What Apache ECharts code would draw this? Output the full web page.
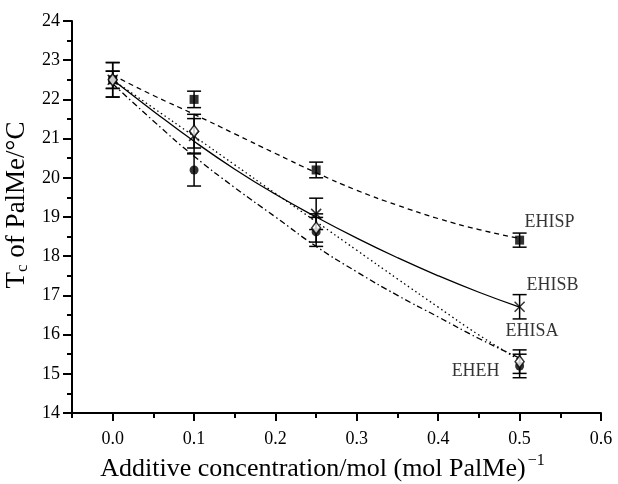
<!DOCTYPE html>
<html>
<head>
<meta charset="utf-8">
<script src="https://cdn.jsdelivr.net/npm/echarts@6/dist/echarts.min.js"></script>
<style>
  html, body { margin: 0; padding: 0; background: #fff; }
  #chart { width: 618px; height: 484px; }
</style>
</head>
<body>
<div id="chart"></div>
<script>
'use strict'

// measured points (x = additive concentration)
var xs = [0, 0.1, 0.25, 0.5];

var ehispY = [22.5, 22.0, 20.2, 18.41];
var ehispErr = [0.22, 0.21, 0.2, 0.18];
var ehisbY = [22.5, 21.07, 19.08, 16.71];
var ehisbErr = [0.44, 0.44, 0.4, 0.31];
var ehisaY = [22.5, 21.19, 18.72, 15.31];
var ehisaErr = [0.22, 0.43, 0.36, 0.3];
var ehehY = [22.5, 20.2, 18.62, 15.2];
var ehehErr = [0.44, 0.41, 0.37, 0.3];

// fitted curves
var fitX = [0, 0.05, 0.1, 0.15, 0.2, 0.25, 0.3, 0.35, 0.4, 0.45, 0.5];
var ehispFit = [22.62, 22.1, 21.62, 21.12, 20.62, 20.13, 19.68, 19.3, 18.96, 18.68, 18.45];
var ehisbFit = [22.5, 21.7, 20.93, 20.22, 19.58, 19.0, 18.46, 17.96, 17.5, 17.08, 16.7];
var ehisaFit = [22.5, 21.78, 21.06, 20.33, 19.6, 18.88, 18.15, 17.42, 16.7, 15.99, 15.35];
var ehehFit = [22.4, 21.45, 20.55, 19.75, 19.0, 18.25, 17.6, 17.0, 16.45, 15.9, 15.4];

var xMajorTicks = [0, 0.1, 0.2, 0.3, 0.4, 0.5, 0.6];
var xMinorTicks = [-0.05, 0.05, 0.15, 0.25, 0.35, 0.45, 0.55];

var dom = document.getElementById('chart');
var chart = echarts.init(dom);
var font = 'Liberation Serif';

function pairs(xv, yv) {
    return xv.map(function (x, i) { return [x, yv[i]]; });
}

function errData(yv, ev) {
    return xs.map(function (x, i) { return [x, yv[i], ev[i]]; });
}

function pointData(yv, labelOpt) {
    var d = pairs(xs, yv);
    var last = d.length - 1;
    d[last] = { value: d[last], label: labelOpt };
    return d;
}

function renderErrorBar(params, api) {
    var x = api.value(0), y = api.value(1), e = api.value(2);
    var hi = api.coord([x, y + e]);
    var lo = api.coord([x, y - e]);
    var w = 7;
    var st = { stroke: '#000', lineWidth: 1.5 };
    return {
        type: 'group',
        children: [
            { type: 'line', shape: { x1: hi[0], y1: hi[1], x2: lo[0], y2: lo[1] }, style: st },
            { type: 'line', shape: { x1: hi[0] - w, y1: hi[1], x2: hi[0] + w, y2: hi[1] }, style: st },
            { type: 'line', shape: { x1: lo[0] - w, y1: lo[1], x2: lo[0] + w, y2: lo[1] }, style: st }
        ]
    };
}

function errSeries(yv, ev) {
    return {
        type: 'custom',
        renderItem: renderErrorBar,
        data: errData(yv, ev),
        encode: { x: 0, y: 1 },
        z: 3,
        silent: true
    };
}

function fitSeries(name, yv, dash) {
    return {
        name: name,
        type: 'line',
        data: pairs(fitX, yv),
        smooth: true,
        showSymbol: false,
        lineStyle: { color: '#000', width: 1.3, type: dash },
        z: 2,
        silent: true
    };
}

function lbl(align, dx, dy) {
    return {
        show: true,
        formatter: '{a}',
        position: 'inside',
        align: align,
        verticalAlign: 'middle',
        offset: [dx, dy],
        color: '#000',
        fontFamily: font,
        fontSize: 18
    };
}

var option = {
    animation: false,
    backgroundColor: '#fff',
    grid: { left: 72, right: 17, top: 21, bottom: 71, outerBoundsMode: 'none' },
    xAxis: [
        {
            type: 'value',
            min: -0.05,
            max: 0.6,
            splitLine: { show: false },
            axisLine: { onZero: false, lineStyle: { color: '#000', width: 2 } },
            axisTick: { customValues: xMajorTicks, length: 8, lineStyle: { color: '#000', width: 2 } },
            axisLabel: {
                customValues: xMajorTicks,
                margin: 17,
                color: '#000',
                fontFamily: font,
                fontSize: 18,
                formatter: function (v) { return v.toFixed(1); }
            },
            name: 'Additive concentration/mol (mol PalMe){sup|\u22121}',
            nameLocation: 'middle',
            nameGap: 38,
            nameTextStyle: {
                color: '#000',
                fontFamily: font,
                fontSize: 26,
                padding: [0, 28, 0, 0],
                rich: {
                    sup: { fontFamily: font, fontSize: 16, color: '#000', verticalAlign: 'top', padding: [0, 0, 16, 2] }
                }
            }
        },
        {
            type: 'value',
            min: -0.05,
            max: 0.6,
            position: 'bottom',
            splitLine: { show: false },
            axisLine: { show: false, onZero: false },
            axisTick: { customValues: xMinorTicks, length: 5, lineStyle: { color: '#000', width: 2 } },
            axisLabel: { show: false }
        }
    ],
    yAxis: {
        type: 'value',
        min: 14,
        max: 24,
        interval: 1,
        splitLine: { show: false },
        axisLine: { show: true, onZero: false, lineStyle: { color: '#000', width: 2 } },
        axisTick: { show: true, length: 9, lineStyle: { color: '#000', width: 2 } },
        minorTick: { show: true, splitNumber: 2, length: 5, lineStyle: { color: '#000', width: 2 } },
        axisLabel: { margin: 12, color: '#000', fontFamily: font, fontSize: 18 },
        name: 'T{sub|c} of PalMe/\u00b0C',
        nameLocation: 'middle',
        nameGap: 34,
        nameTextStyle: {
            color: '#000',
            fontFamily: font,
            fontSize: 27,
            padding: [0, 0, 0, 24],
            rich: {
                sub: { fontFamily: font, fontSize: 17, color: '#000', verticalAlign: 'bottom', padding: [12, 0, 0, 0] }
            }
        }
    },
    series: [
        fitSeries('EHISP fit', ehispFit, [5, 4]),
        fitSeries('EHISB fit', ehisbFit, 'solid'),
        fitSeries('EHISA fit', ehisaFit, [1.5, 3]),
        fitSeries('EHEH fit', ehehFit, [6, 3, 1.5, 3]),
        errSeries(ehispY, ehispErr),
        errSeries(ehisbY, ehisbErr),
        errSeries(ehisaY, ehisaErr),
        errSeries(ehehY, ehehErr),
        {
            name: 'EHISP',
            type: 'scatter',
            symbol: 'rect',
            symbolSize: 9,
            itemStyle: { color: '#000' },
            data: pointData(ehispY, lbl('left', 5, -18)),
            z: 5
        },
        {
            name: 'EHISB',
            type: 'scatter',
            symbol: 'path://M0,0L10,10M10,0L0,10',
            symbolSize: 10,
            itemStyle: { color: 'none', borderColor: '#000', borderWidth: 1.5 },
            data: pointData(ehisbY, lbl('left', 7, -22)),
            z: 5
        },
        {
            name: 'EHISA',
            type: 'scatter',
            symbol: 'diamond',
            symbolSize: [9, 12],
            itemStyle: { color: '#fff', borderColor: '#000', borderWidth: 1.5 },
            data: pointData(ehisaY, lbl('left', -14, -30)),
            z: 6
        },
        {
            name: 'EHEH',
            type: 'scatter',
            symbol: 'circle',
            symbolSize: 9,
            itemStyle: { color: '#000' },
            data: pointData(ehehY, lbl('right', -20, 5)),
            z: 4
        }
    ]
};

if (option && typeof option === 'object') {
    chart.setOption(option);
}
</script>
</body>
</html>
